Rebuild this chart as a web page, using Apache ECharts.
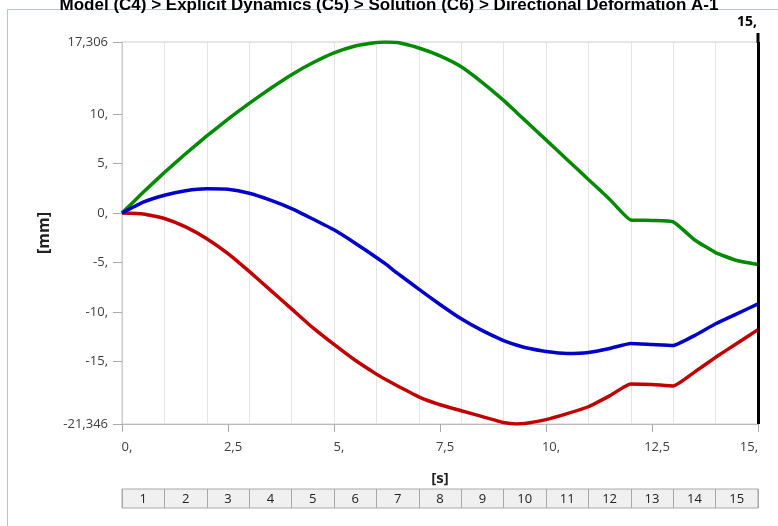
<!DOCTYPE html>
<html>
<head>
<meta charset="utf-8">
<script src="https://cdn.jsdelivr.net/npm/echarts@6/dist/echarts.min.js"></script>
<style>html,body{margin:0;padding:0;background:#fff;}#c{width:778px;height:526px;}</style>
</head>
<body>
<div id="c"></div>
<script>
var titleText = 'Model (C4) > Explicit Dynamics (C5) > Solution (C6) > Directional Deformation A-1';
var times = [0,0.5,1,1.5,2,2.5,3,3.5,4,4.5,5,5.5,6,6.2,6.5,7,7.5,8,8.5,9,9.3,9.5,10,10.5,11,11.5,12,12.5,13,13.5,14,14.5,15];
var greenVals = [0,2.1,4.1,6.0,7.8,9.5,11.1,12.6,14.0,15.2,16.2,16.9,17.25,17.306,17.25,16.7,15.9,14.8,13.2,11.4,10.2,9.4,7.4,5.4,3.4,1.4,-0.7,-0.75,-0.9,-2.7,-4.0,-4.8,-5.2];
var blueVals = [0,1.1,1.8,2.25,2.45,2.4,2.0,1.3,0.45,-0.6,-1.7,-3.05,-4.5,-5.1,-6.1,-7.7,-9.25,-10.7,-11.9,-12.9,-13.35,-13.6,-14.0,-14.2,-14.1,-13.7,-13.2,-13.3,-13.4,-12.4,-11.2,-10.2,-9.2];
var redVals = [0,-0.1,-0.55,-1.4,-2.6,-4.1,-5.9,-7.8,-9.7,-11.6,-13.3,-14.9,-16.3,-16.8,-17.5,-18.6,-19.4,-20.0,-20.6,-21.2,-21.346,-21.3,-20.9,-20.3,-19.6,-18.5,-17.3,-17.35,-17.5,-16.1,-14.6,-13.2,-11.8];
var yTicks = [-21.346,-15,-10,-5,0,5,10,17.306];
var stepLabels = ['1','2','3','4','5','6','7','8','9','10','11','12','13','14','15'];
var yMin = -21.346, yMax = 17.306, xMin = 0, xMax = 15;
var markerTime = 15;

function fmt(v){
  var s = String(Math.round(v*1000)/1000);
  if (s.indexOf('.') < 0) return s + ',';
  return s.replace('.', ',');
}
function pairs(ys){ return times.map(function(t,i){ return [t, ys[i]]; }); }

var chart = echarts.init(document.getElementById('c'), null, {renderer:'canvas'});
var lab = {color:'#404040', fontSize:13, fontFamily:'Open Sans'};
var option = {
  animation:false,
  backgroundColor:'#fff',
  title:{text:titleText,left:'center',top:-3,padding:0,textStyle:{fontFamily:'Liberation Sans',fontWeight:'bold',fontSize:17,color:'#000'}},
  grid:[
    {left:122,right:20,top:42,bottom:102,show:true,borderColor:'#cccccc',borderWidth:1,backgroundColor:'#fff'},
    {left:122,right:20,top:489,height:19,show:true,borderColor:'#a8a8a8',borderWidth:1,backgroundColor:'#f0f0f0'}
  ],
  xAxis:[
    {type:'value',gridIndex:0,min:xMin,max:xMax,interval:2.5,
     name:'[s]',nameLocation:'middle',nameGap:47,
     nameTextStyle:{fontFamily:'Open Sans',fontWeight:'bold',fontSize:15,color:'#222'},
     axisLine:{show:true,onZero:false,lineStyle:{color:'#bbbbbb'}},
     axisTick:{show:true,length:8,lineStyle:{color:'#aaaaaa'}},
     axisLabel:Object.assign({margin:17,formatter:fmt,padding:[0,0,0,10],alignMaxLabel:'right'},lab),
     splitLine:{show:false}},
    {type:'value',gridIndex:0,min:xMin,max:xMax,interval:1,position:'bottom',
     axisLine:{show:false,onZero:false},axisTick:{show:false},axisLabel:{show:false},
     splitLine:{show:true,lineStyle:{color:'#e4e4e4',width:1}}},
    {type:'category',gridIndex:1,data:stepLabels,boundaryGap:true,
     axisLine:{show:false,onZero:false},axisTick:{show:false},
     axisLabel:{inside:true,margin:2,color:'#222',fontSize:13,fontFamily:'Open Sans'},
     splitLine:{show:true,lineStyle:{color:'#a8a8a8',width:1}}}
  ],
  yAxis:[
    {type:'value',gridIndex:0,min:yMin,max:yMax,
     name:'[mm]',nameLocation:'middle',nameGap:66,nameRotate:90,
     nameTextStyle:{fontFamily:'Open Sans',fontWeight:'bold',fontSize:16,color:'#222'},
     axisLine:{show:true,onZero:false,lineStyle:{color:'#cccccc'}},
     axisTick:{show:true,length:9,customValues:yTicks,lineStyle:{color:'#aaaaaa'}},
     axisLabel:Object.assign({margin:14,customValues:yTicks,formatter:fmt},lab),
     splitLine:{show:false}},
    {type:'value',gridIndex:1,show:false,min:0,max:1}
  ],
  series:[
    {type:'line',xAxisIndex:0,yAxisIndex:0,data:pairs(greenVals),showSymbol:false,symbol:'none',smooth:0.15,
     lineStyle:{color:'#008a00',width:3.5},itemStyle:{color:'#008a00'},z:3},
    {type:'line',xAxisIndex:0,yAxisIndex:0,data:pairs(redVals),showSymbol:false,symbol:'none',smooth:0.15,
     lineStyle:{color:'#c00000',width:3.5},itemStyle:{color:'#c00000'},z:3},
    {type:'line',xAxisIndex:0,yAxisIndex:0,data:pairs(blueVals),showSymbol:false,symbol:'none',smooth:0.15,
     lineStyle:{color:'#0000c8',width:3.5},itemStyle:{color:'#0000c8'},z:4,
     markLine:{silent:true,symbol:['none','none'],animation:false,
       lineStyle:{color:'#000',width:3,type:'solid'},
       label:{show:false},
       data:[{xAxis:markerTime}]}}
  ]
};
chart.setOption(option);
var px = chart.convertToPixel({xAxisIndex:0, yAxisIndex:0}, [markerTime, yMax]);
chart.setOption({graphic:[
  {type:'line',shape:{x1:7.5,y1:9.5,x2:778,y2:9.5},style:{stroke:'#b7c2d2',lineWidth:1},silent:true},
  {type:'line',shape:{x1:7.5,y1:9.5,x2:7.5,y2:526},style:{stroke:'#b7c2d2',lineWidth:1},silent:true},
  {type:'line',shape:{x1:px[0],y1:px[1]-9,x2:px[0],y2:px[1]+1},style:{stroke:'#000',lineWidth:3},silent:true,z:10},
  {type:'text',x:px[0]-1,y:px[1]-13,style:{text:fmt(markerTime),fill:'#000',font:'bold 14px "Open Sans"',textAlign:'right',textVerticalAlign:'bottom'},silent:true,z:10}
]});
</script>
</body>
</html>
